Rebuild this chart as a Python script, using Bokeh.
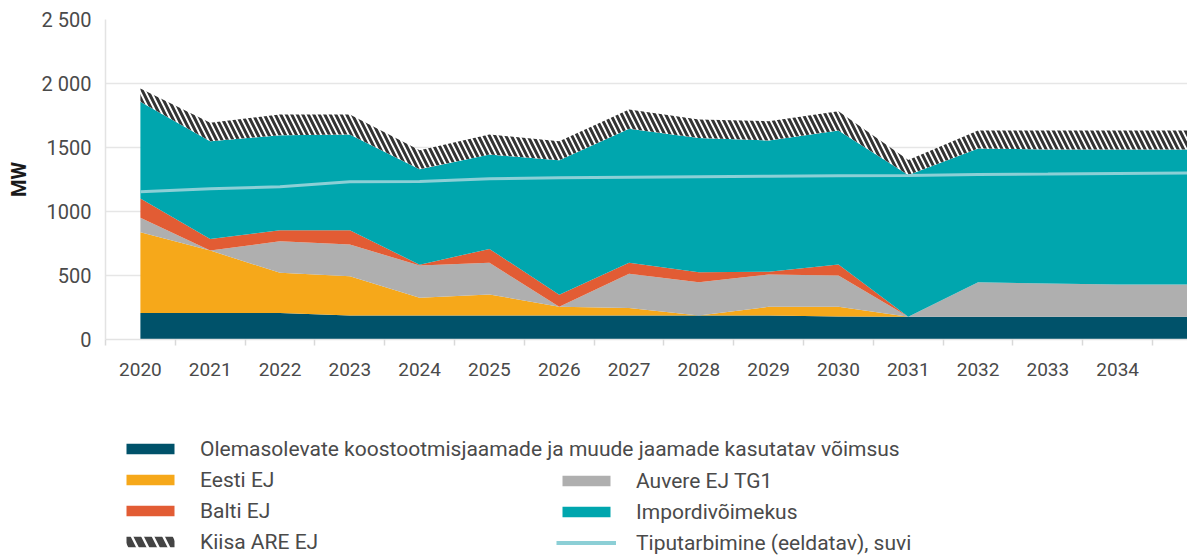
from bokeh.plotting import figure
from bokeh.layouts import column
from bokeh.models import Range1d, FixedTicker, Legend, LegendItem, ColumnDataSource
from bokeh.transform import stack
from bokeh.embed import file_html
from bokeh.resources import INLINE

# ---- data (MW) ----
years = ["2020", "2021", "2022", "2023", "2024", "2025", "2026", "2027",
         "2028", "2029", "2030", "2031", "2032", "2033", "2034", "2035"]
olemasolevad = [208, 208, 208, 188, 188, 188, 188, 188, 188, 188, 180, 178, 178, 178, 178, 178]
eesti = [630, 487, 313, 307, 138, 164, 67, 59, 0, 67, 75, 0, 0, 0, 0, 0]
auvere = [113, 0, 247, 247, 252, 247, 0, 266, 260, 253, 245, 0, 270, 259, 252, 252]
balti = [151, 91, 86, 112, 6, 109, 94, 86, 78, 22, 86, 0, 0, 0, 0, 0]
impordi = [755, 763, 742, 748, 746, 737, 1052, 1047, 1049, 1025, 1047, 1107, 1044, 1047, 1054, 1054]
kiisa = [104, 144, 162, 156, 149, 157, 148, 151, 144, 151, 151, 118, 141, 149, 149, 149]
tipp = [1155, 1177, 1193, 1233, 1235, 1255, 1263, 1268, 1272, 1276, 1280, 1282, 1289, 1292, 1297, 1300]

labels = {
    "olemasolevad": "Olemasolevate koostootmisjaamade ja muude jaamade kasutatav võimsus",
    "eesti": "Eesti EJ",
    "auvere": "Auvere EJ TG1",
    "balti": "Balti EJ",
    "impordi": "Impordivõimekus",
    "kiisa": "Kiisa ARE EJ",
    "tipp": "Tiputarbimine (eeldatav), suvi",
}
colors = {
    "olemasolevad": "#00526a",
    "eesti": "#f6a81a",
    "auvere": "#afafaf",
    "balti": "#e25c34",
    "impordi": "#00a6ae",
    "tipp": "#8ccfd6",
}
y_tick_labels = {2500: "2 500", 2000: "2 000", 1500: "1500", 1000: "1000", 500: "500", 0: "0"}

FONT = "Roboto"
TEXT = "#4a4a4a"
W = 1187

x = list(range(len(years)))
source = ColumnDataSource(dict(x=x, olemasolevad=olemasolevad, eesti=eesti, auvere=auvere,
                               balti=balti, impordi=impordi, kiisa=kiisa, tipp=tipp))

p = figure(width=W, height=395, output_backend="svg", toolbar_location=None,
           x_range=Range1d(-0.5, 15), y_range=Range1d(0, 2500),
           min_border_left=105, min_border_top=19, min_border_right=0, min_border_bottom=56)
p.outline_line_color = None

order = ["olemasolevad", "eesti", "auvere", "balti", "impordi"]
for i, name in enumerate(order):
    p.varea(x="x", y1=stack(*order[:i]), y2=stack(*order[:i + 1]), source=source,
            fill_color=colors[name])
p.varea(x="x", y1=stack(*order), y2=stack(*order, "kiisa"), source=source,
        fill_color="white", hatch_pattern="left_diagonal_line", hatch_color="#333333",
        hatch_weight=3.0, hatch_scale=11)
p.line(x="x", y="tipp", source=source, line_color=colors["tipp"], line_width=3)

# axes
p.xgrid.visible = False
p.ygrid.grid_line_color = "#e6e6e6"
p.ygrid.grid_line_width = 1.5

p.xaxis.ticker = FixedTicker(ticks=list(range(15)), minor_ticks=[i - 0.5 for i in range(16)])
p.xaxis.major_label_overrides = {i: years[i] for i in range(15)}
p.xaxis.major_tick_line_color = None
p.xaxis.major_tick_out = 0
p.xaxis.major_tick_in = 0
p.xaxis.minor_tick_line_color = "#d9d9d9"
p.xaxis.minor_tick_out = 6
p.xaxis.minor_tick_in = 0
p.xaxis.minor_tick_line_width = 1.5
p.xaxis.axis_line_color = "#e3e3e3"
p.xaxis.axis_line_width = 1.5
p.xaxis.major_label_standoff = 17
p.xaxis.major_label_text_font = FONT
p.xaxis.major_label_text_font_size = "19px"
p.xaxis.major_label_text_color = TEXT

p.yaxis.ticker = FixedTicker(ticks=[0, 500, 1000, 1500, 2000, 2500])
p.yaxis.major_label_overrides = y_tick_labels
p.yaxis.major_tick_line_color = None
p.yaxis.major_tick_out = 0
p.yaxis.major_tick_in = 0
p.yaxis.minor_tick_line_color = None
p.yaxis.axis_line_color = "#e3e3e3"
p.yaxis.axis_line_width = 1.5
p.yaxis.major_label_standoff = 14
p.yaxis.major_label_text_font = FONT
p.yaxis.major_label_text_font_size = "20px"
p.yaxis.major_label_text_color = TEXT
p.yaxis.axis_label = "MW"
p.yaxis.axis_label_text_font = FONT
p.yaxis.axis_label_text_font_style = "bold"
p.yaxis.axis_label_text_font_size = "20px"
p.yaxis.axis_label_text_color = "#1a1a1a"
p.yaxis.axis_label_standoff = 8

# ---- legend panel (separate figure below the chart, no axes; its frame aligns with the chart's) ----
lp = figure(width=W, height=161, output_backend="svg", toolbar_location=None,
            x_range=Range1d(0, 1), y_range=Range1d(0, 1), min_border=0,
            x_axis_location=None, y_axis_location=None)
lp.grid.visible = False
lp.outline_line_color = None

# swatch-only renderers: a single point placed outside the visible range draws nothing
sw = {}
for name in order:
    sw[name] = lp.varea(x=[5], y1=[5], y2=[5], fill_color=colors[name])
sw["kiisa"] = lp.varea(x=[5], y1=[5], y2=[5], fill_color="white", hatch_pattern="left_diagonal_line",
                       hatch_color="#444444", hatch_weight=7, hatch_scale=21)
sw["tipp"] = lp.line(x=[5, 6], y=[5, 5], line_color=colors["tipp"], line_width=4)


def make_legend(keys, loc):
    items = [LegendItem(label=labels[k], renderers=[sw[k]]) for k in keys]
    return Legend(items=items, location=loc, orientation="vertical",
                  glyph_width=60, glyph_height=13, label_height=25, spacing=6,
                  label_standoff=20, padding=0, margin=0,
                  border_line_color=None, background_fill_alpha=0,
                  label_text_font=FONT, label_text_font_size="21px", label_text_color=TEXT)


lp.add_layout(make_legend(["olemasolevad", "eesti", "balti", "kiisa"], (15, 2)))
lp.add_layout(make_legend(["auvere", "impordi", "tipp"], (451, 1)))

layout = column(p, lp, spacing=0)
open("out.html", "w").write(file_html(layout, INLINE))
